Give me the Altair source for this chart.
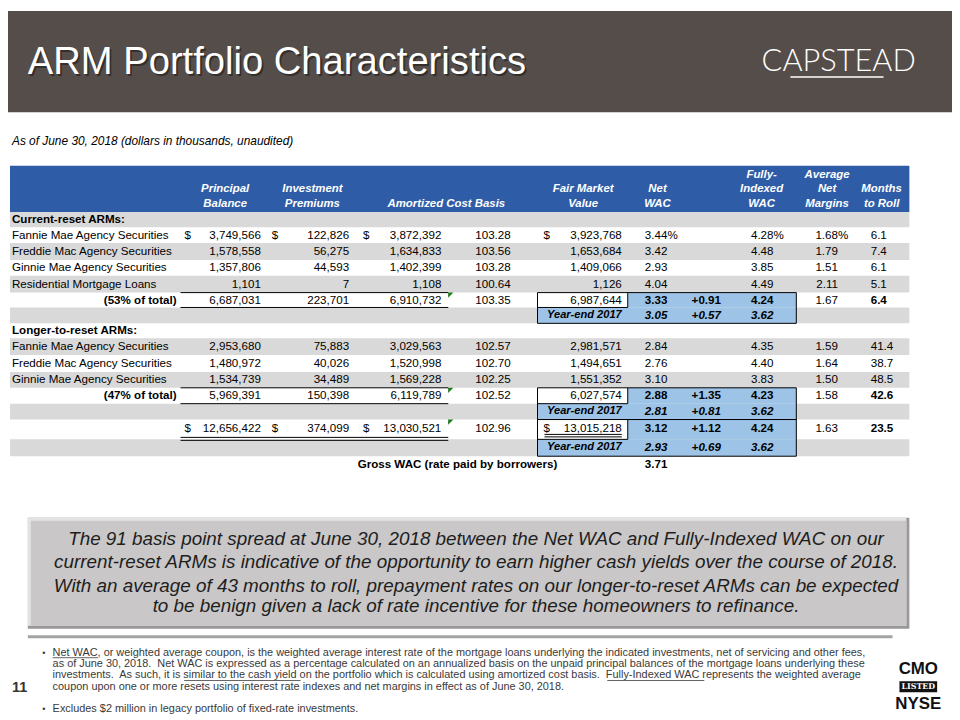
import altair as alt
import pandas as pd

# ---------------- data ----------------
row_labels = ["Current-reset ARMs:", "Fannie Mae Agency Securities", "Freddie Mac Agency Securities",
              "Ginnie Mae Agency Securities", "Residential Mortgage Loans", "(53% of total)", "Year-end 2017",
              "Longer-to-reset ARMs:", "Fannie Mae Agency Securities", "Freddie Mac Agency Securities",
              "Ginnie Mae Agency Securities", "(47% of total)", "Year-end 2017", "", "Year-end 2017"]
row_kinds = ["section", "item", "item", "item", "item", "subtotal", "yearend",
             "section", "item", "item", "item", "subtotal", "yearend", "total", "yearend"]
principal_balance = [None, 3749566, 1578558, 1357806, 1101, 6687031, None,
                     None, 2953680, 1480972, 1534739, 5969391, None, 12656422, None]
investment_premiums = [None, 122826, 56275, 44593, 7, 223701, None,
                       None, 75883, 40026, 34489, 150398, None, 374099, None]
amortized_cost = [None, 3872392, 1634833, 1402399, 1108, 6910732, None,
                  None, 3029563, 1520998, 1569228, 6119789, None, 13030521, None]
amortized_cost_pct = [None, 103.28, 103.56, 103.28, 100.64, 103.35, None,
                      None, 102.57, 102.70, 102.25, 102.52, None, 102.96, None]
fair_market_value = [None, 3923768, 1653684, 1409066, 1126, 6987644, None,
                     None, 2981571, 1494651, 1551352, 6027574, None, 13015218, None]
net_wac = [None, 3.44, 3.42, 2.93, 4.04, 3.33, 3.05,
           None, 2.84, 2.76, 3.10, 2.88, 2.81, 3.12, 2.93]
wac_spread = [None, None, None, None, None, 0.91, 0.57,
              None, None, None, None, 1.35, 0.81, 1.12, 0.69]
fully_indexed_wac = [None, 4.28, 4.48, 3.85, 4.49, 4.24, 3.62,
                     None, 4.35, 4.40, 3.83, 4.23, 3.62, 4.24, 3.62]
avg_net_margins = [None, 1.68, 1.79, 1.51, 2.11, 1.67, None,
                   None, 1.59, 1.64, 1.50, 1.58, None, 1.63, None]
months_to_roll = [None, 6.1, 7.4, 6.1, 5.1, 6.4, None,
                  None, 41.4, 38.7, 48.5, 42.6, None, 23.5, None]
gross_wac_label = "Gross WAC (rate paid by borrowers)"
gross_wac = 3.71

header_labels = [["Principal", "Balance"], ["Investment", "Premiums"], ["Amortized Cost Basis"],
                 ["Fair Market", "Value"], ["Net", "WAC"], ["Fully-", "Indexed", "WAC"],
                 ["Average", "Net", "Margins"], ["Months", "to Roll"]]

title_text = "ARM Portfolio Characteristics"
logo_text = "CAPSTEAD"
subtitle_text = "As of June 30, 2018 (dollars in thousands, unaudited)"
callout_lines = [
    "The 91 basis point spread at June 30, 2018 between the Net WAC and Fully-Indexed WAC on our",
    "current-reset ARMs is indicative of the opportunity to earn higher cash yields over the course of 2018.",
    "With an average of 43 months to roll, prepayment rates on our longer-to-reset ARMs can be expected",
    "to be benign given a lack of rate incentive for these homeowners to refinance.",
]
NB = "\u00a0 "
footnote_lines = [
    "Net WAC, or weighted average coupon, is the weighted average interest rate of the mortgage loans underlying the indicated investments, net of servicing and other fees,",
    "as of June 30, 2018." + NB + "Net WAC is expressed as a percentage calculated on an annualized basis on the unpaid principal balances of the mortgage loans underlying these",
    "investments." + NB + "As such, it is similar to the cash yield on the portfolio which is calculated using amortized cost basis." + NB + "Fully-Indexed WAC represents the weighted average",
    "coupon upon one or more resets using interest rate indexes and net margins in effect as of June 30, 2018.",
]
footnote_2 = "Excludes $2 million in legacy portfolio of fixed-rate investments."
footnote_underlines = [(0, "Net WAC"), (2, "similar to the cash yield "), (2, "Fully-Indexed WAC ")]
page_number = "11"

# ---------------- layout / style ----------------
FONT = "Liberation Sans"
BROWN = "#554D4A"
BLUE = "#2E5CA7"
LIGHTBLUE = "#9DC3E6"
GRAY = "#D9D9D9"
FS = 11.7

ARIAL = {" ": 278, "\u00a0": 278, "!": 278, "$": 556, "%": 889, "(": 333, ")": 333, ",": 278, "-": 333,
         ".": 278, "/": 278, ":": 278, "A": 667, "B": 667, "C": 722, "D": 722, "E": 667, "F": 611,
         "G": 778, "H": 722, "I": 278, "J": 500, "K": 667, "L": 556, "M": 833, "N": 722, "O": 778,
         "P": 667, "Q": 778, "R": 722, "S": 667, "T": 611, "U": 722, "V": 667, "W": 944, "X": 667,
         "Y": 667, "Z": 611, "a": 556, "b": 556, "c": 500, "d": 556, "e": 556, "f": 278, "g": 556,
         "h": 556, "i": 222, "j": 222, "k": 500, "l": 222, "m": 833, "n": 556, "o": 556, "p": 556,
         "q": 556, "r": 333, "s": 500, "t": 278, "u": 556, "v": 500, "w": 722, "x": 500, "y": 500, "z": 500}


def tw(s, size):
    return sum(ARIAL.get(c, 556) for c in s) * size / 1000.0


xs = alt.Scale(domain=[8, 960], nice=False, zero=False)
ys = alt.Scale(domain=[8, 720], nice=False, zero=False, reverse=True)
X = lambda f="x": alt.X(f"{f}:Q", scale=xs, axis=None)
Y = lambda f="y": alt.Y(f"{f}:Q", scale=ys, axis=None)

cells, rects, rules = [], [], []


def T(x, y, t, align="left", weight="normal", style="normal", size=FS, color="#000000",
      font=FONT, baseline="middle", opacity=1.0):
    cells.append(dict(x=x, y=y, t=t, align=align, weight=weight, style=style, size=float(size),
                      color=color, font=font, baseline=baseline, opacity=float(opacity)))


def R(x, x2, y, y2, fill):
    rects.append(dict(x=x, x2=x2, y=y, y2=y2, fill=fill))


def L(x, x2, y, y2, color="#000000", w=1.0):
    rules.append(dict(x=x, x2=x2, y=y, y2=y2, color=color, w=float(w)))


# header band
TX = 28
R(8, 960, 8, 110, BROWN)
T(TX + 1.8, 72 + 1.8, title_text, size=38.5, color="#1a1614", baseline="alphabetic", opacity=0.55)
T(TX, 72, title_text, size=38.5, color="#ffffff", baseline="alphabetic")
T(768, 68.5, logo_text, size=31, color="#ffffff", font="Lato", weight=300, baseline="alphabetic")
L(797, 891, 74.5, 74.5, "#ffffff", 1.5)
T(12, 139, subtitle_text, size=12, style="italic")

# table header
TL, TR = 10, 917
R(TL, TR, 164, 211, BLUE)
head_x = [227, 315, 450, 588, 663, 768, 834, 889]
head_y = [173, 188, 203]
for lines, hx in zip(header_labels, head_x):
    for ln, hy in zip(lines, head_y[3 - len(lines):]):
        T(hx, hy, ln, align="center", weight="bold", style="italic", size=11.5, color="#ffffff")

# rows
edges = [211, 226, 242, 259, 275, 292, 307, 323, 338, 355, 372, 388, 404, 420, 440, 457]
for i in range(len(row_kinds)):
    if i % 2 == 0:
        R(TL, TR, edges[i], edges[i + 1], GRAY)

# blue boxes
BX0, BXM, BX1 = 542, 633, 803
for i, k in enumerate(row_kinds):
    if k in ("subtotal", "total"):
        top, mid, bot = edges[i], edges[i + 1], edges[i + 2]
        R(BX0, BXM, top, mid, "#ffffff")
        R(BXM, BX1, top, mid, LIGHTBLUE)
        R(BX0, BX1, mid, bot, LIGHTBLUE)
        L(BX0, BX1, top, top)
        L(BX0, BX1, bot, bot)
        L(BX0, BX0, top, bot)
        L(BX1, BX1, top, bot)
        L(BXM, BXM, top, mid)
        L(BX0, BXM, mid, mid)

COLX = dict(label=12, sublabel=178, d1=186, c1=263, d2=274, c2=352, d3=366, c3=445, c4=515,
            d5=548, c5=627, c6=673, c7=727, c8=780, c9=845, c10=878)

fmt_int = lambda v: f"{v:,.0f}"
fmt_2 = lambda v: f"{v:.2f}"
tri = []
for i, k in enumerate(row_kinds):
    yc = (edges[i] + edges[i + 1]) / 2 - 0.5
    if k == "total":
        yc = edges[i] + 8.5
    lab = row_labels[i]
    if k == "section":
        T(COLX["label"], yc, lab, weight="bold")
    elif k == "item":
        T(COLX["label"], yc, lab)
    elif k == "subtotal":
        T(COLX["sublabel"], yc, lab, align="right", weight="bold")
    elif k == "yearend":
        T(COLX["c5"], yc, lab, align="right", weight="bold", style="italic", size=11.2)
    dollar = (i == 1) or k == "total"
    for col, dcol, arr in (("c1", "d1", principal_balance), ("c2", "d2", investment_premiums),
                           ("c3", "d3", amortized_cost), ("c5", "d5", fair_market_value)):
        if arr[i] is not None:
            T(COLX[col], yc, fmt_int(arr[i]), align="right")
            if dollar:
                T(COLX[dcol], yc, "$")
    if amortized_cost_pct[i] is not None:
        T(COLX["c4"], yc, fmt_2(amortized_cost_pct[i]), align="right")
    strong = k in ("subtotal", "total")
    ye = k == "yearend"
    wt = "bold" if (strong or ye) else "normal"
    st = "italic" if ye else "normal"
    if net_wac[i] is not None:
        T(COLX["c6"], yc, fmt_2(net_wac[i]), align="right", weight=wt, style=st)
    if wac_spread[i] is not None:
        T(COLX["c7"], yc, "+" + fmt_2(wac_spread[i]), align="right", weight=wt, style=st)
    if fully_indexed_wac[i] is not None:
        T(COLX["c8"], yc, fmt_2(fully_indexed_wac[i]), align="right", weight=wt, style=st)
    if avg_net_margins[i] is not None:
        T(COLX["c9"], yc, fmt_2(avg_net_margins[i]), align="right")
    if months_to_roll[i] is not None:
        T(COLX["c10"], yc, f"{months_to_roll[i]:.1f}", weight="bold" if strong else "normal")
    if i == 1:
        for col in ("c6", "c8", "c9"):
            T(COLX[col], yc, "%")
    # underlines
    if k == "subtotal":
        L(182, 452, edges[i], edges[i])
        L(182, 452, edges[i + 1], edges[i + 1])
        tri.append(dict(x=454.5, y=edges[i] + 2.5))
    if k == "total":
        L(182, 452, edges[i + 1] - 2, edges[i + 1] - 2)
        L(182, 452, edges[i + 1] + 1, edges[i + 1] + 1)
        L(549, 627, edges[i] + 15, edges[i] + 15)
        L(549, 627, edges[i] + 17.5, edges[i] + 17.5)
        tri.append(dict(x=454.5, y=edges[i] + 2.5))

gy = 465
T(562, gy, gross_wac_label, align="right", weight="bold")
T(COLX["c6"], gy, fmt_2(gross_wac), align="right", weight="bold")

# callout box
CB = (28, 917, 519, 631)
R(CB[0], CB[1], CB[2], CB[3], "#9a9898")
R(CB[0], CB[1] - 3, CB[2], CB[3] - 3, "#e4e3e3")
R(CB[0] + 3, CB[1] - 3, CB[2] + 3, CB[3] - 3, "#C9C7C7")
for ln, yy in zip(callout_lines, [541, 563.5, 587.5, 608.5]):
    T(480, yy, ln, align="center", style="italic", size=19, color="#1e1e1e")

# separator and footnotes
L(28, 900, 639, 639, "#a3a3a3", 3)
FN = 11.0
FC = "#3a3a3a"
FX = 53
fy = [655, 666.5, 678, 689.5]
T(44, fy[0], "\u2022", align="center", size=9, color=FC)
for ln, yy in zip(footnote_lines, fy):
    T(FX, yy, ln, size=FN, color=FC)
for li, seg in footnote_underlines:
    line = footnote_lines[li]
    pos = line.index(seg)
    x0 = FX + tw(line[:pos], FN)
    L(x0, x0 + tw(seg, FN), fy[li] + 5.2, fy[li] + 5.2, FC, 0.8)
T(44, 711.5, "\u2022", align="center", size=9, color=FC)
T(FX, 711.5, footnote_2, size=FN, color=FC)
T(12, 691, page_number, weight="bold", size=14.5, color="#333333")

# exchange logo
T(926, 672, "CMO", align="center", weight="bold", size=17, color="#111111")
R(907, 945, 684, 695, "#111111")
T(926, 689.8, "LISTED", align="center", weight="bold", size=8, color="#ffffff", font="DejaVu Serif")
T(926, 707, "NYSE", align="center", weight="bold", size=17, color="#111111")

# ---------------- build chart ----------------
layers = []
# draw rects in insertion order, grouping consecutive same colour
order = []
for r in rects:
    if order and order[-1][0] == r["fill"]:
        order[-1][1].append(r)
    else:
        order.append((r["fill"], [r]))
for fill, rows in order:
    layers.append(alt.Chart(pd.DataFrame(rows)).mark_rect(color=fill, strokeWidth=0).encode(
        x=X("x"), x2="x2:Q", y=Y("y"), y2="y2:Q"))

ldf = pd.DataFrame(rules)
for (color, w), sub in ldf.groupby(["color", "w"], sort=False):
    layers.append(alt.Chart(sub).mark_rule(color=color, strokeWidth=float(w)).encode(
        x=X("x"), x2="x2:Q", y=Y("y"), y2="y2:Q"))

layers.append(alt.Chart(pd.DataFrame(tri)).mark_point(
    shape="M-1,-1L1,-1L-1,1Z", filled=True, size=28, color="#1f7a1f", opacity=1).encode(x=X("x"), y=Y("y")))

tdf = pd.DataFrame(cells)
keys = ["align", "weight", "style", "size", "color", "font", "baseline", "opacity"]
for key, sub in tdf.groupby(keys, sort=False):
    a, wt, st, sz, col, fnt, bl, op = key
    wt_val = int(wt) if str(wt).isdigit() else wt
    layers.append(alt.Chart(sub[["x", "y", "t"]]).mark_text(
        align=a, baseline=bl, fontSize=float(sz), fontWeight=wt_val, fontStyle=st, color=col,
        font=fnt, opacity=float(op)).encode(x=X("x"), y=Y("y"), text="t:N"))

chart = alt.layer(*layers).properties(
    width=952, height=712, padding=0, autosize=alt.AutoSizeParams(type="none"), background="#ffffff"
).configure_view(stroke=None)

chart.save("out.html", embed_options={"renderer": "svg", "actions": False})
